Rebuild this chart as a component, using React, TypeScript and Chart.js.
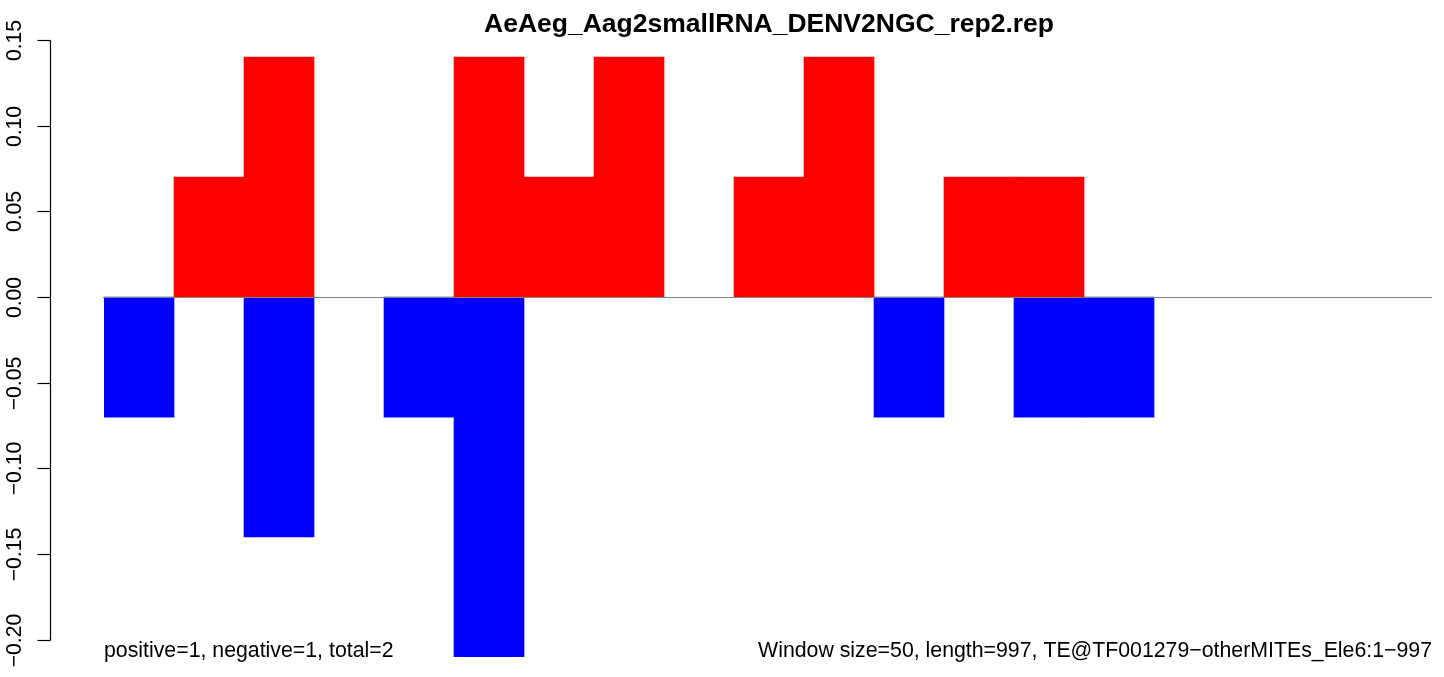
import React, { useEffect, useRef } from "react";
import { Chart, registerables } from "chart.js";

Chart.register(...registerables);

const bins: string[] = Array.from({ length: 19 }, (_, i) => String(i + 1));
const positiveValues: (number | null)[] = [null, 0.07, 0.14, null, null, 0.14, 0.07, 0.14, null, 0.07, 0.14, null, 0.07, 0.07, null, null, null, null, null];
const negativeValues: (number | null)[] = [-0.07, null, -0.14, null, -0.07, -0.21, null, null, null, null, null, -0.07, null, -0.07, -0.07, null, null, null, null];
const yTicks: number[] = [-0.2, -0.15, -0.1, -0.05, 0, 0.05, 0.1, 0.15];
const yTickLabels: string[] = ["\u22120.20", "\u22120.15", "\u22120.10", "\u22120.05", "0.00", "0.05", "0.10", "0.15"];
const titleText = "AeAeg_Aag2smallRNA_DENV2NGC_rep2.rep";
const leftNote = "positive=1, negative=1, total=2";
const rightNote = "Window size=50, length=997, TE@TF001279\u2212otherMITEs_Ele6:1\u2212997";

const FONT = "'Liberation Sans', Arial, Helvetica, sans-serif";

const decorPlugin = {
  id: "rdecor",
  afterDatasetsDraw(chart: any) {
    const ctx = chart.ctx as CanvasRenderingContext2D;
    const y = chart.scales.y;
    const area = chart.chartArea;
    ctx.save();
    // zero line
    const y0 = Math.round(y.getPixelForValue(0)) + 0.5;
    ctx.strokeStyle = "#808080";
    ctx.lineWidth = 1;
    ctx.beginPath();
    ctx.moveTo(area.left - 1, y0);
    ctx.lineTo(area.right - 2, y0);
    ctx.stroke();

    // y axis
    const axisX = 50.5;
    const top = y.getPixelForValue(yTicks[yTicks.length - 1]);
    const bot = y.getPixelForValue(yTicks[0]);
    ctx.strokeStyle = "#000";
    ctx.lineWidth = 1.2;
    ctx.beginPath();
    ctx.moveTo(axisX, Math.round(top) + 0.5);
    ctx.lineTo(axisX, Math.round(bot) + 0.5);
    ctx.stroke();
    ctx.fillStyle = "#000";
    ctx.font = `21.2px ${FONT}`;
    ctx.textAlign = "center";
    ctx.textBaseline = "alphabetic";
    yTicks.forEach((v, i) => {
      const py = Math.round(y.getPixelForValue(v)) + 0.5;
      ctx.beginPath();
      ctx.moveTo(axisX, py);
      ctx.lineTo(axisX - 13, py);
      ctx.stroke();
      ctx.save();
      ctx.translate(21, py);
      ctx.rotate(-Math.PI / 2);
      ctx.fillText(yTickLabels[i], 0, 0);
      ctx.restore();
    });

    // title
    ctx.font = `bold 26.5px ${FONT}`;
    ctx.textAlign = "center";
    ctx.fillText(titleText, (area.left + area.right) / 2, 32);

    // notes
    ctx.font = `21.3px ${FONT}`;
    ctx.textAlign = "left";
    ctx.fillText(leftNote, area.left, 657);
    ctx.textAlign = "right";
    ctx.fillText(rightNote, area.right - 2, 657);
    ctx.restore();
  },
};

export default function App() {
  const ref = useRef<HTMLCanvasElement | null>(null);
  useEffect(() => {
    if (!ref.current) return;
    const chart = new Chart(ref.current, {
      type: "bar",
      data: {
        labels: bins,
        datasets: [
          {
            data: positiveValues,
            backgroundColor: "#FF0000",
            borderWidth: 0,
            barPercentage: 1,
            categoryPercentage: 1,
            skipNull: true,
          },
          {
            data: negativeValues,
            backgroundColor: "#0000FF",
            borderWidth: 0,
            barPercentage: 1,
            categoryPercentage: 1,
            skipNull: true,
          },
        ],
      },
      options: {
        responsive: false,
        animation: false,
        events: [],
        layout: { padding: { left: 104, right: 10, top: 40, bottom: 20 } },
        plugins: { legend: { display: false }, title: { display: false }, tooltip: { enabled: false } },
        scales: {
          x: { display: false, stacked: true, offset: true },
          y: { display: false, stacked: false, min: -0.21, max: 0.15 },
        },
      },
      plugins: [decorPlugin],
    });
    return () => chart.destroy();
  }, []);
  return (
    <div style={{ position: "absolute", left: 0, top: 0, width: 1444, height: 677, background: "#fff" }}>
      <canvas ref={ref} width={1444} height={677} style={{ display: "block" }} />
    </div>
  );
}
